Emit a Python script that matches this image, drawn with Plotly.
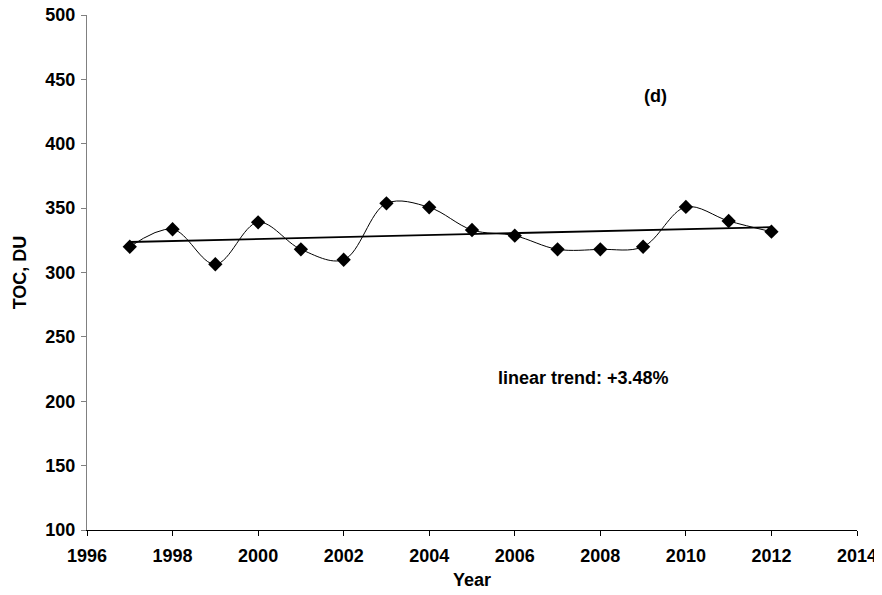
import numpy as np
import plotly.graph_objects as go

years = [1997, 1998, 1999, 2000, 2001, 2002, 2003, 2004, 2005, 2006, 2007, 2008, 2009, 2010, 2011, 2012]
toc = [320.0, 333.6, 306.4, 339.0, 318.0, 309.9, 353.7, 350.6, 333.0, 328.6, 318.0, 318.0, 320.0, 350.9, 340.0, 331.7]
x_ticks = [1996, 1998, 2000, 2002, 2004, 2006, 2008, 2010, 2012, 2014]
y_ticks = [100, 150, 200, 250, 300, 350, 400, 450, 500]
trend_label = "linear trend: +3.48%"
panel_label = "(d)"

coef = np.polyfit(years, toc, 1)
trend_x = [years[0], years[-1]]
trend_y = [float(np.polyval(coef, v)) for v in trend_x]

font = dict(family="Liberation Sans, Arial, sans-serif", size=18, color="black")

fig = go.Figure()
fig.add_trace(go.Scatter(
    x=years, y=toc, mode="lines+markers",
    line=dict(color="black", width=1, shape="spline", smoothing=1.0),
    marker=dict(symbol="diamond", size=11, color="black"),
    showlegend=False, cliponaxis=False))
fig.add_trace(go.Scatter(
    x=trend_x, y=trend_y, mode="lines",
    line=dict(color="black", width=1.8), showlegend=False))

fig.add_annotation(x=2009.28, y=437, text="<b>%s</b>" % panel_label, showarrow=False,
                   font=font, xanchor="center", yanchor="middle")
fig.add_annotation(x=2007.6, y=218, text="<b>%s</b>" % trend_label, showarrow=False,
                   font=font, xanchor="center", yanchor="middle")

fig.update_layout(
    width=874, height=587,
    margin=dict(l=79, r=25, t=7, b=65),
    paper_bgcolor="white", plot_bgcolor="white",
    font=font,
)
fig.update_xaxes(
    range=[1996, 2014], tickvals=x_ticks, ticktext=["<b>%d</b>" % v for v in x_ticks],
    showgrid=False, zeroline=False, showline=True, linecolor="black", linewidth=1,
    ticks="outside", ticklen=5, tickcolor="black", automargin=False,
    ticklabelstandoff=4, ticklabeloverflow="allow",
    title=dict(text="<b>Year</b>", font=font, standoff=8),
)
fig.update_yaxes(
    range=[100, 500], tickvals=y_ticks, ticktext=["<b>%d</b>" % v for v in y_ticks],
    showgrid=False, zeroline=False, showline=True, linecolor="#808080", linewidth=1,
    ticks="outside", ticklen=5, tickcolor="#808080", automargin=False,
    ticklabelstandoff=2, ticklabeloverflow="allow",
    title=dict(text="<b>TOC, DU</b>", font=font, standoff=14),
)

fig.write_html("out.html")
